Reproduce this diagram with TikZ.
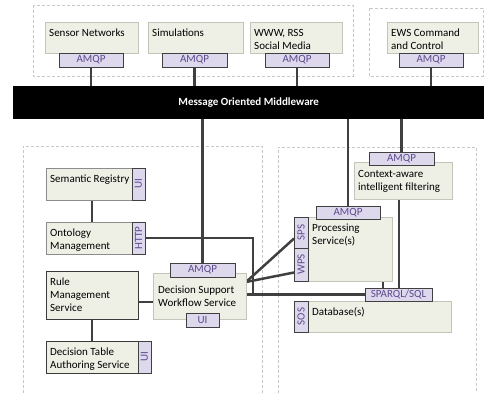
\documentclass[tikz,border=0pt]{standalone}
\usepackage{fontspec}
\setmainfont{Carlito}
\usepackage{graphicx}
\usetikzlibrary{calc,shadows}
\pgfdeclarelayer{bg}
\pgfsetlayers{bg,main}
\definecolor{boxfill}{HTML}{EEF0E6}
\definecolor{boxline}{HTML}{C2C6BA}
\definecolor{boxmid}{HTML}{8C8C8C}
\definecolor{boxdark}{HTML}{3A3A3A}
\definecolor{tagfill}{HTML}{DDD8EC}
\definecolor{tagline}{HTML}{404040}
\definecolor{tagtext}{HTML}{5B4A8E}
\definecolor{grpc}{HTML}{C8C8C8}
\definecolor{connc}{HTML}{404040}
\newcommand\boxfont{\fontsize{11}{13.3}\selectfont}
\begin{document}
\begin{tikzpicture}[x=1pt,y=-1pt,
 grp/.style={draw=grpc, line width=0.6pt, dash pattern=on 3pt off 2pt},
 gbox/.style={draw=boxline, fill=boxfill, line width=0.6pt, anchor=north west, inner sep=0pt, outer sep=0pt,
   drop shadow={shadow xshift=1.2pt, shadow yshift=-1.2pt, opacity=0.18, fill=black!40}},
 mbox/.style={gbox, draw=boxmid},
 dbox/.style={gbox, draw=boxdark, line width=0.9pt},
 tag/.style={draw=tagline, fill=tagfill, text=tagtext, line width=0.8pt, anchor=north west, inner sep=0pt, outer sep=0pt, font=\boxfont},
 btxt/.style={anchor=base west, inner sep=0pt, font=\boxfont},
 conn/.style={draw=connc, line width=2.5pt},
]
\useasboundingbox (0,0) rectangle (484,392);

% middleware bar
\node[fill=black, anchor=north west, minimum width=471pt, minimum height=33pt, inner sep=0pt, text=white, font=\bfseries\boxfont] (mom) at (13,86) {Message Oriented Middleware};

% top row
\node[gbox, minimum width=93pt, minimum height=31pt] (sn) at (45,22) {};
\node[btxt] at ([xshift=4pt,yshift=-14pt]sn.north west) {\parbox[t]{90pt}{Sensor Networks}};
\node[tag, minimum width=64pt, minimum height=14pt] (snq) at (59,53) {AMQP};

\node[gbox, minimum width=95pt, minimum height=31pt] (sim) at (148,22) {};
\node[btxt] at ([xshift=4pt,yshift=-14pt]sim.north west) {\parbox[t]{90pt}{Simulations}};
\node[tag, minimum width=65pt, minimum height=14pt] (simq) at (162,53) {AMQP};

\node[gbox, minimum width=92pt, minimum height=31pt] (www) at (250,22) {};
\node[btxt] at ([xshift=4pt,yshift=-14pt]www.north west) {\parbox[t]{90pt}{WWW, RSS\\Social Media}};
\node[tag, minimum width=64pt, minimum height=14pt] (wwwq) at (265,53) {AMQP};

\node[gbox, minimum width=91pt, minimum height=31pt] (ews) at (387,22) {};
\node[btxt] at ([xshift=4pt,yshift=-14pt]ews.north west) {\parbox[t]{90pt}{EWS Command\\and Control}};
\node[tag, minimum width=64pt, minimum height=14pt] (ewsq) at (399,53) {AMQP};

% left lower group
\node[mbox, minimum width=86pt, minimum height=32pt] (sr) at (46,168) {};
\node[btxt] at ([xshift=4pt,yshift=-14pt]sr.north west) {\parbox[t]{90pt}{Semantic Registry}};
\node[tag, minimum width=13pt, minimum height=32pt] (srui) at (132,168) {\rotatebox{90}{UI}};

\node[mbox, minimum width=86pt, minimum height=32pt] (om) at (46,222) {};
\node[btxt] at ([xshift=4pt,yshift=-14pt]om.north west) {\parbox[t]{90pt}{Ontology\\Management}};
\node[tag, minimum width=13pt, minimum height=32pt] (omh) at (132,222) {\rotatebox{90}{HTTP}};

\node[dbox, minimum width=92pt, minimum height=48pt] (rm) at (46,271) {};
\node[btxt] at ([xshift=4pt,yshift=-14pt]rm.north west) {\parbox[t]{90pt}{Rule\\Management\\Service}};

\node[dbox, minimum width=92pt, minimum height=32pt] (dt) at (46,341) {};
\node[btxt] at ([xshift=4pt,yshift=-14pt]dt.north west) {\parbox[t]{90pt}{Decision Table\\Authoring Service}};
\node[tag, minimum width=13pt, minimum height=32pt] (dtui) at (138,341) {\rotatebox{90}{UI}};

\node[gbox, minimum width=93pt, minimum height=46pt] (ds) at (153,273) {};
\node[btxt] at ([xshift=5pt,yshift=-20pt]ds.north west) {\parbox[t]{90pt}{Decision Support\\Workflow Service}};
\node[tag, minimum width=65pt, minimum height=14pt] (dsq) at (170,263) {AMQP};
\node[tag, minimum width=33pt, minimum height=14pt] (dsui) at (186,313) {UI};

% right lower group
\node[gbox, minimum width=98pt, minimum height=37pt] (ca) at (354,162) {};
\node[btxt] at ([xshift=4pt,yshift=-15pt]ca.north west) {\parbox[t]{100pt}{Context-aware\\intelligent filtering}};
\node[tag, minimum width=65pt, minimum height=13pt] (caq) at (369,152) {AMQP};

\node[gbox, minimum width=84pt, minimum height=64pt] (ps) at (308,217) {};
\node[btxt] at ([xshift=4pt,yshift=-14pt]ps.north west) {\parbox[t]{80pt}{Processing\\Service(s)}};
\node[tag, minimum width=64pt, minimum height=13pt] (psq) at (316,206) {AMQP};
\node[tag, minimum width=14pt, minimum height=31pt] (sps) at (294,217) {\rotatebox{90}{SPS}};
\node[tag, minimum width=14pt, minimum height=33pt] (wps) at (294,248) {\rotatebox{90}{WPS}};

\node[gbox, minimum width=143pt, minimum height=31pt] (db) at (308,301) {};
\node[btxt] at ([xshift=4pt,yshift=-14pt]db.north west) {\parbox[t]{90pt}{Database(s)}};
\node[tag, minimum width=14pt, minimum height=31pt] (sos) at (294,301) {\rotatebox{90}{SOS}};
\node[tag, minimum width=67pt, minimum height=13pt] (sq) at (365,288) {SPARQL/SQL};

\begin{pgfonlayer}{bg}
 \draw[grp] (33,5) rectangle (353,76);
 \draw[grp] (369,8) rectangle (483,76);
 \draw[grp] (23,393) -- (23,146) -- (262,146) -- (262,393);
 \draw[grp] (278,393) -- (278,147) -- (476,147) -- (476,393);

 \draw[conn] (snq.south) -- (snq.south |- mom.north);
 \draw[conn] (simq.south) -- (simq.south |- mom.north);
 \draw[conn] (wwwq.south) -- (wwwq.south |- mom.north);
 \draw[conn] (ewsq.south) -- (ewsq.south |- mom.north);
 \draw[conn] (dsq.north) -- (dsq.north |- mom.south);
 \draw[conn] (psq.north) -- (psq.north |- mom.south);
 \draw[conn] (caq.north) -- (caq.north |- mom.south);

 \draw[conn] ([xshift=3pt]sr.south) -- ([xshift=3pt]om.north);
 \draw[conn] (rm.south) -- (dt.north);
 \draw[conn] ([yshift=-7pt]rm.east) -- ([yshift=-7pt]rm.east -| ds.west);

 \coordinate (hj) at (253,294);
 \draw[conn] (omh.east) -| (hj);
 \draw[conn] (ds.east |- sq.west) -- (sq.west);

 \coordinate (dsr) at ([yshift=14pt]ds.east);
 \draw[conn] (dsr) -- ([yshift=-6pt]sps.west);
 \draw[conn] (dsr) -- ([yshift=-8pt]wps.west);

 \draw[conn] ([xshift=-4pt]ca.south) -- ([xshift=-4pt]ca.south |- sq.north);
 \draw[conn] ([xshift=-9pt]ps.south east) -- ([xshift=-9pt]ps.south east |- sq.north);
\end{pgfonlayer}
\end{tikzpicture}
\end{document}
